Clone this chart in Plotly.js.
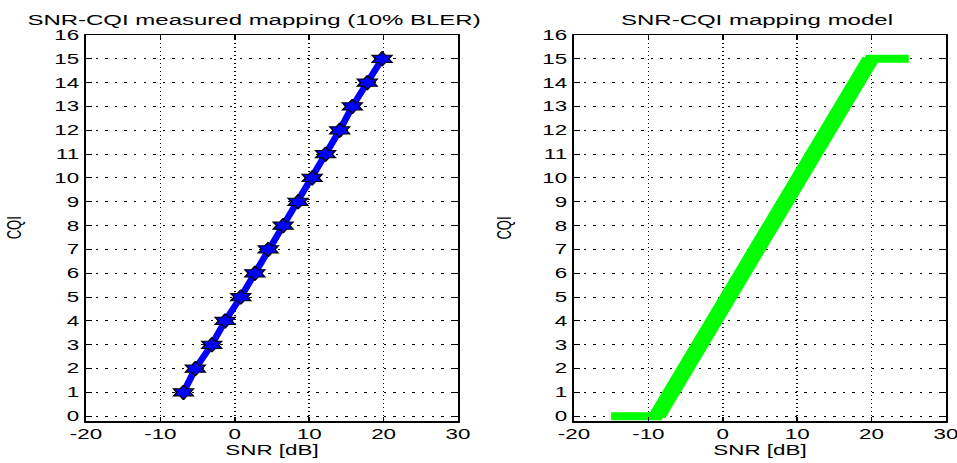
<!DOCTYPE html>
<html>
<head>
<meta charset="utf-8">
<script src="https://cdn.plot.ly/plotly-3.0.1.min.js"></script>
<style>
  html, body { margin: 0; padding: 0; background: #fff; overflow: hidden; }
  #wrap { width: 957px; height: 463px; overflow: hidden; }
  #plot { width: 606px; height: 463px; transform: scaleX(1.6003); transform-origin: 0 0; }
</style>
</head>
<body>
<div id="wrap"><div id="plot"></div></div>
<script>
// Measured SNR-CQI mapping (10% BLER)
const cqiMeasured = [1, 2, 3, 4, 5, 6, 7, 8, 9, 10, 11, 12, 13, 14, 15];
const snrMeasured = [-6.9, -5.3, -3.1, -1.3, 0.8, 2.7, 4.5, 6.5, 8.5, 10.4, 12.2, 14.1, 15.8, 17.8, 19.8];

// Mapping model (breakpoints)
const snrModel = [-15, -8.84, 19.88, 25];
const cqiModel = [0, 0, 15, 15];

const xTicks = [-20, -10, 0, 10, 20, 30];
const yTicks = [0, 1, 2, 3, 4, 5, 6, 7, 8, 9, 10, 11, 12, 13, 14, 15, 16];

const titleLeft = 'SNR-CQI measured mapping (10% BLER)';
const titleRight = 'SNR-CQI mapping model';
const xLabel = 'SNR [dB]';
const yLabel = 'CQI';

const FONT = 'Liberation Sans, Arial, sans-serif';

const traces = [
  {
    x: snrMeasured, y: cqiMeasured, xaxis: 'x', yaxis: 'y',
    type: 'scatter', mode: 'lines+markers',
    line: { color: '#0000ff', width: 4.5 },
    marker: { symbol: 'hexagram', size: 11, color: '#0000ff', line: { color: '#000', width: 1 } },
    hoverinfo: 'x+y', showlegend: false
  },
  {
    x: snrModel, y: cqiModel, xaxis: 'x2', yaxis: 'y2',
    type: 'scatter', mode: 'lines',
    line: { color: '#00ff00', width: 8 },
    showlegend: false
  },
  {
    x: snrModel.slice(1, 3), y: cqiModel.slice(1, 3), xaxis: 'x2', yaxis: 'y2',
    type: 'scatter', mode: 'lines',
    line: { color: '#00ff00', width: 11 },
    showlegend: false
  }
];

function xAx(domain, anchor) {
  return {
    domain: domain, anchor: anchor, range: [-20, 30],
    tickvals: xTicks, ticktext: xTicks.map(String),
    showgrid: true, gridcolor: '#000', gridwidth: 1, griddash: '1px,3px',
    zeroline: false, showline: true, linecolor: '#000', linewidth: 1.5,
    mirror: 'ticks', ticks: 'inside', ticklen: 4, tickcolor: '#000',
    tickfont: { family: FONT, size: 14, color: '#000' },
    ticklabeloverflow: 'allow',
    title: { text: xLabel, font: { family: FONT, size: 14, color: '#000' }, standoff: 4 },
    fixedrange: true
  };
}
function yAx(domain, anchor) {
  return {
    domain: domain, anchor: anchor, range: [-0.2, 16],
    tickvals: yTicks, ticktext: yTicks.map(String),
    showgrid: true, gridcolor: '#000', gridwidth: 1, griddash: '1.5px,4.5px',
    zeroline: false, showline: true, linecolor: '#000', linewidth: 1.5,
    mirror: 'ticks', ticks: 'inside', ticklen: 4, tickcolor: '#000',
    tickfont: { family: FONT, size: 14, color: '#000' },
    fixedrange: true
  };
}

const yDom = [0.0907, 0.9244];
const layout = {
  width: 606, height: 463,
  margin: { l: 0, r: 0, t: 0, b: 0, pad: 0 },
  paper_bgcolor: '#fff', plot_bgcolor: '#fff',
  showlegend: false,
  xaxis: xAx([0.08868, 0.47226], 'y'),
  yaxis: yAx(yDom, 'x'),
  xaxis2: xAx([0.59188, 0.97546], 'y2'),
  yaxis2: yAx(yDom, 'x2'),
  annotations: [
    { text: titleLeft, xref: 'paper', yref: 'paper', x: 0.26191, y: 0.957, showarrow: false,
      xanchor: 'center', yanchor: 'middle', font: { family: FONT, size: 15, color: '#000' } },
    { text: titleRight, xref: 'paper', yref: 'paper', x: 0.78057, y: 0.957, showarrow: false,
      xanchor: 'center', yanchor: 'middle', font: { family: FONT, size: 15, color: '#000' } },
    { text: yLabel, xref: 'paper', yref: 'paper', x: 0.01547, y: 0.5076, showarrow: false, textangle: -90,
      xanchor: 'center', yanchor: 'middle', font: { family: FONT, size: 13, color: '#000' } },
    { text: yLabel, xref: 'paper', yref: 'paper', x: 0.52073, y: 0.5076, showarrow: false, textangle: -90,
      xanchor: 'center', yanchor: 'middle', font: { family: FONT, size: 13, color: '#000' } }
  ]
};

Plotly.newPlot('plot', traces, layout, { displayModeBar: false, staticPlot: true });
</script>
</body>
</html>
